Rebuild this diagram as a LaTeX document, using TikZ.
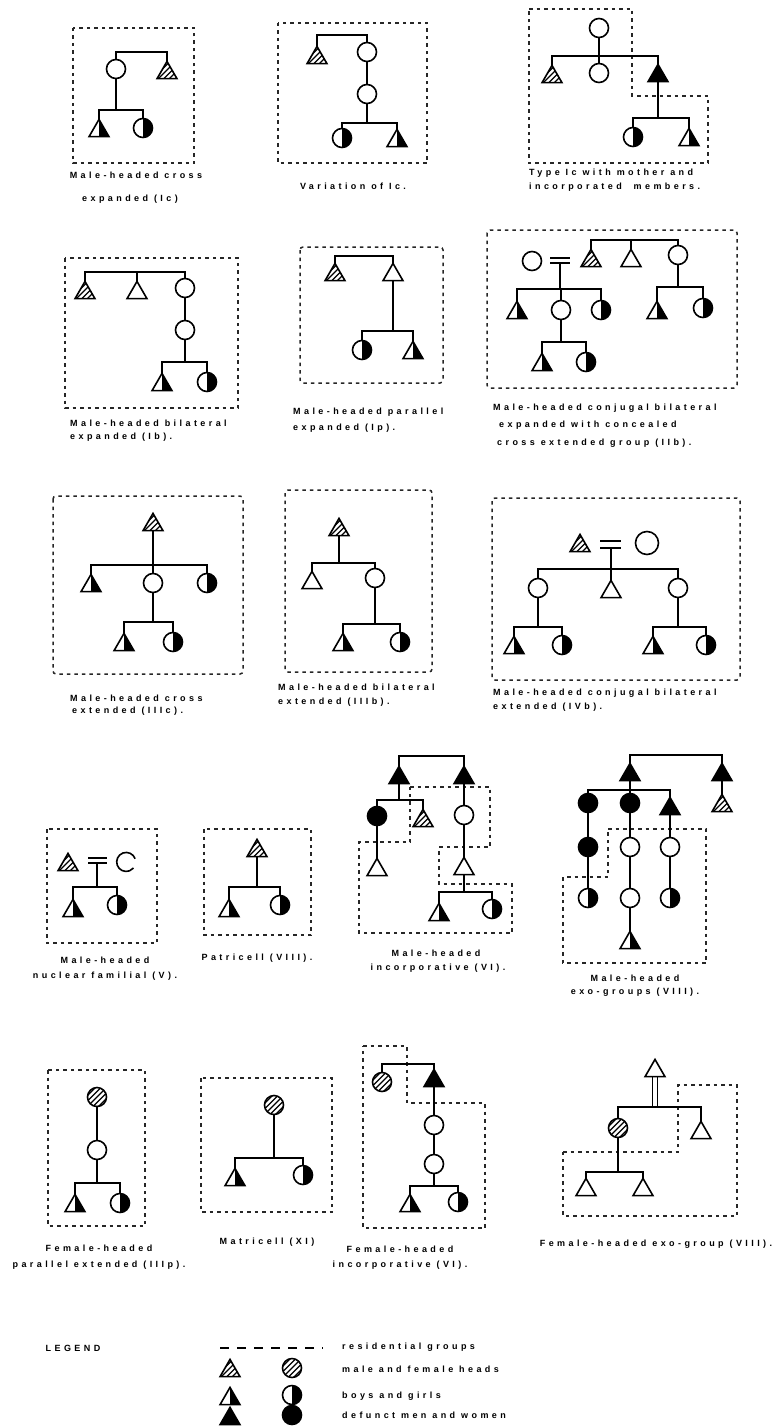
\documentclass[tikz,border=0pt]{standalone}
\usepackage{fontspec}
\setmainfont{Liberation Sans}
\newfontfamily\capfont[LetterSpace=38]{Liberation Sans}
\usetikzlibrary{shapes.geometric}
\tikzset{
  sym/.style={draw=black, line width=1.6pt, inner sep=0pt, outer sep=0pt, fill=white},
  tri/.style={sym, regular polygon, regular polygon sides=3, minimum size=23pt, yshift=-2.9pt},
  cir/.style={sym, circle, minimum size=19pt},
  dead/.style={fill=black},
  half/.style={path picture={\fill[black] (path picture bounding box.north) rectangle (path picture bounding box.south east);}},
  hatch/.style={path picture={\foreach \o in {-11,-5.5,0,5.5,11}{\draw[black,line width=1.3pt] ([xshift=\o pt]path picture bounding box.center) ++(-12,12) -- ++(24,-24);}}},
  link/.style={line width=1.8pt, black},
  res/.style={draw=black!85, line width=1.5pt, dash pattern=on 3.5pt off 4pt},
  captxt/.style={font=\capfont\bfseries\fontsize{9}{11}\selectfont, inner sep=0pt, text=black},
}
\newcommand\sibbar[3]{\draw[link] (#1.north) |- (#2.north |- #3) -- (#2.north);}
\newcommand\dropto[2]{\draw[link] (#1.south) -- (#1.south |- #2);}
\begin{document}
\begin{tikzpicture}[x=1pt,y=-1pt]
\fill[white] (0,0) rectangle (782,1426);
\useasboundingbox (0,0) rectangle (782,1426);

% ---------- D1 ----------
\draw[res] (73,28) rectangle (194,163);
\node[cir] (a1) at (116,69) {};
\node[tri,hatch] (a2) at (167,70) {};
\node[tri,half] (a3) at (99,128) {};
\node[cir,half] (a4) at (143,128) {};
\coordinate (a12) at (0,52);
\coordinate (a34) at (0,110);
\sibbar{a1}{a2}{a12}
\dropto{a1}{a34}
\sibbar{a3}{a4}{a34}
\node[captxt] (ta1) at (136,175) {Male-headed cross};
\node[captxt] (ta2) at (130,199) {expanded (Ic)};

% ---------- D2 ----------
\draw[res] (278,23) rectangle (427,163);
\node[tri,hatch] (b1) at (317,55) {};
\node[cir] (b2) at (367,52) {};
\node[cir] (b3) at (367,94) {};
\node[cir,half] (b4) at (342,138) {};
\node[tri,half] (b5) at (397,138) {};
\coordinate (b12) at (0,35);
\coordinate (b45) at (0,123);
\sibbar{b1}{b2}{b12}
\draw[link] (b2.south) -- (b3.north);
\dropto{b3}{b45}
\sibbar{b4}{b5}{b45}
\node[captxt] (tb1) at (353,186) {Variation of Ic.};

% ---------- D3 ----------
\draw[res] (529,9) -- (632,9) -- (632,96) -- (708,96) -- (708,163) -- (529,163) -- cycle;
\node[cir] (c1) at (599,28) {};
\node[tri,hatch] (c2) at (552,74) {};
\node[cir] (c3) at (599,73) {};
\node[tri,dead] (c4) at (658,73) {};
\node[cir,half] (c5) at (633,137) {};
\node[tri,half] (c6) at (689,137) {};
\coordinate (c24) at (0,56);
\coordinate (c56) at (0,118);
\draw[link] (c1.south) -- (c3.north);
\sibbar{c2}{c4}{c24}
\dropto{c4}{c56}
\sibbar{c5}{c6}{c56}
\node[captxt,anchor=west] (tc1) at (529,173) {Type Ic with mother and};
\node[captxt,anchor=west] (tc2) at (529,187) {incorporated\ \ members.};

% ---------- D4 ----------
\draw[res] (65,258) rectangle (238,408);
\node[tri,hatch] (d1) at (85,290) {};
\node[tri] (d2) at (137,290) {};
\node[cir] (d3) at (185,288) {};
\node[cir] (d4) at (185,330) {};
\node[tri,half] (d5) at (162,382) {};
\node[cir,half] (d6) at (207,382) {};
\coordinate (d13) at (0,272);
\coordinate (d56) at (0,362);
\sibbar{d1}{d3}{d13}
\draw[link] (d2.north) -- (d2.north |- d13);
\draw[link] (d3.south) -- (d4.north);
\dropto{d4}{d56}
\sibbar{d5}{d6}{d56}
\node[captxt,anchor=west] (td1) at (70,423) {Male-headed bilateral};
\node[captxt,anchor=west] (td2) at (70,437) {expanded (Ib).};

% ---------- D5 ----------
\draw[res,rounded corners=3pt] (300,247) rectangle (443,383);
\node[tri,hatch] (e1) at (335,272) {};
\node[tri] (e2) at (393,272) {};
\node[cir,half] (e3) at (362,350) {};
\node[tri,half] (e4) at (413,350) {};
\coordinate (e12) at (0,256);
\coordinate (e34) at (0,331);
\sibbar{e1}{e2}{e12}
\dropto{e2}{e34}
\sibbar{e3}{e4}{e34}
\node[captxt,anchor=west] (te1) at (293,412) {Male-headed parallel};
\node[captxt,anchor=west] (te2) at (293,428) {expanded (Ip).};

% ---------- D6 ----------
\draw[res,rounded corners=3pt] (487,230) rectangle (737,388);
\node[cir] (f1) at (532,261) {};
\draw[link] (550,258) -- (570,258) (550,263) -- (570,263);
\coordinate (feq) at (560,263);
\node[tri,half] (f2) at (517,310) {};
\node[cir] (f3) at (561,310) {};
\node[cir,half] (f4) at (601,310) {};
\node[tri,half] (f5) at (542,362) {};
\node[cir,half] (f6) at (586,362) {};
\node[tri,hatch] (f7) at (591,258) {};
\node[tri] (f8) at (631,258) {};
\node[cir] (f9) at (678,255) {};
\node[tri,half] (f10) at (657,310) {};
\node[cir,half] (f11) at (703,308) {};
\coordinate (f24) at (0,289);
\coordinate (f56) at (0,342);
\coordinate (f79) at (0,240);
\coordinate (f1011) at (0,287);
\draw[link] (feq) -- (feq |- f24);
\sibbar{f2}{f4}{f24}
\draw[link] (f3.north) -- (f3.north |- f24);
\dropto{f3}{f56}
\sibbar{f5}{f6}{f56}
\sibbar{f7}{f9}{f79}
\draw[link] (f8.north) -- (f8.north |- f79);
\dropto{f9}{f1011}
\sibbar{f10}{f11}{f1011}
\node[captxt,anchor=west] (tf1) at (493,408) {Male-headed conjugal bilateral};
\node[captxt,anchor=west] (tf2) at (499,425) {expanded with concealed};
\node[captxt,anchor=west] (tf3) at (497,443) {cross extended group (IIb).};

% ---------- D7 ----------
\draw[res,rounded corners=3pt] (53,496) rectangle (243,674);
\node[tri,hatch] (g1) at (153,522) {};
\node[tri,half] (g2) at (91,583) {};
\node[cir] (g3) at (153,583) {};
\node[cir,half] (g4) at (207,583) {};
\node[tri,half] (g5) at (124,642) {};
\node[cir,half] (g6) at (173,642) {};
\coordinate (g24) at (0,565);
\coordinate (g56) at (0,622);
\draw[link] (g1.south) -- (g3.north);
\sibbar{g2}{g4}{g24}
\dropto{g3}{g56}
\sibbar{g5}{g6}{g56}
\node[captxt,anchor=west] (tg1) at (70,698) {Male-headed cross};
\node[captxt,anchor=west] (tg2) at (72,711) {extended (IIIc).};

% ---------- D8 ----------
\draw[res,rounded corners=3pt] (285,490) rectangle (432,672);
\node[tri,hatch] (h1) at (339,527) {};
\node[tri] (h2) at (312,580) {};
\node[cir] (h3) at (375,578) {};
\node[tri,half] (h4) at (343,642) {};
\node[cir,half] (h5) at (400,642) {};
\coordinate (h23) at (0,563);
\coordinate (h45) at (0,624);
\dropto{h1}{h23}
\sibbar{h2}{h3}{h23}
\dropto{h3}{h45}
\sibbar{h4}{h5}{h45}
\node[captxt,anchor=west] (th1) at (278,687) {Male-headed bilateral};
\node[captxt,anchor=west] (th2) at (278,702) {extended (IIIb).};

% ---------- D9 ----------
\draw[res,rounded corners=3pt] (492,498) rectangle (740,680);
\node[tri,hatch] (i1) at (580,543) {};
\draw[link] (600,541) -- (621,541) (600,548) -- (621,548);
\coordinate (ieq) at (611,548);
\node[cir,minimum size=23pt] (i2) at (647,543) {};
\node[tri] (i3) at (611,589) {};
\node[cir] (i4) at (538,588) {};
\node[cir] (i5) at (678,588) {};
\node[tri,half] (i6) at (514,645) {};
\node[cir,half] (i7) at (562,645) {};
\node[tri,half] (i8) at (653,645) {};
\node[cir,half] (i9) at (706,645) {};
\coordinate (i45) at (0,569);
\coordinate (ikid) at (0,627);
\draw[link] (ieq) -- (i3.north);
\sibbar{i4}{i5}{i45}
\dropto{i4}{ikid}
\sibbar{i6}{i7}{ikid}
\dropto{i5}{ikid}
\sibbar{i8}{i9}{ikid}
\node[captxt,anchor=west] (ti1) at (493,693) {Male-headed conjugal bilateral};
\node[captxt,anchor=west] (ti2) at (493,707) {extended (IVb).};

% ---------- D10 ----------
\draw[res] (47,829) rectangle (157,943);
\node[tri,hatch] (j1) at (68,862) {};
\draw[link] (88,858) -- (107,858) (88,863) -- (107,863);
\coordinate (jeq) at (97,863);
\node[circle,minimum size=19pt,inner sep=0pt] (j2) at (126,862) {};
\draw[line width=1.6pt] (j2.20) arc[start angle=20, end angle=320, radius=9.5pt];
\node[tri,half] (j3) at (73,908) {};
\node[cir,half] (j4) at (117,905) {};
\coordinate (j34) at (0,887);
\draw[link] (jeq) -- (jeq |- j34);
\sibbar{j3}{j4}{j34}
\node[captxt] (tj1) at (105,960) {Male-headed};
\node[captxt] (tj2) at (105,976) {nuclear familial (V).};

% ---------- D11 ----------
\draw[res] (204,829) rectangle (311,935);
\node[tri,hatch] (k1) at (257,848) {};
\node[tri,half] (k2) at (229,908) {};
\node[cir,half] (k3) at (280,905) {};
\coordinate (k23) at (0,887);
\dropto{k1}{k23}
\sibbar{k2}{k3}{k23}
\node[captxt] (tk1) at (257,958) {Patricell (VIII).};

% ---------- D12 ----------
\draw[res] (410,787) -- (490,787) -- (490,847) -- (439,847) -- (439,884) -- (512,884) -- (512,933) -- (359,933) -- (359,842) -- (410,842) -- cycle;
\node[tri,dead] (l1) at (399,775) {};
\node[tri,dead] (l2) at (464,775) {};
\node[cir,dead] (l3) at (377,816) {};
\node[tri,hatch] (l4) at (423,818) {};
\node[tri] (l5) at (377,867) {};
\node[cir] (l6) at (464,815) {};
\node[tri] (l7) at (464,866) {};
\node[tri,half] (l8) at (439,912) {};
\node[cir,half] (l9) at (492,909) {};
\coordinate (l12) at (0,756);
\coordinate (l34) at (0,800);
\coordinate (l89) at (0,892);
\sibbar{l1}{l2}{l12}
\dropto{l1}{l34}
\sibbar{l3}{l4}{l34}
\draw[link] (l3.south) -- (l5.north);
\draw[link] (l2.south) -- (l6.north);
\draw[link] (l6.south) -- (l7.north);
\dropto{l7}{l89}
\sibbar{l8}{l9}{l89}
\node[captxt] (tl1) at (436,953) {Male-headed};
\node[captxt] (tl2) at (438,968) {incorporative (VI).};

% ---------- D13 ----------
\draw[res] (608,829) -- (706,829) -- (706,963) -- (563,963) -- (563,877) -- (608,877) -- cycle;
\node[tri,dead] (m1) at (630,772) {};
\node[tri,dead] (m2) at (722,772) {};
\node[tri,hatch] (m3) at (722,803) {};
\node[cir,dead] (m4) at (588,803) {};
\node[cir,dead] (m5) at (630,803) {};
\node[tri,dead] (m6) at (670,806) {};
\node[cir,dead] (m7) at (588,847) {};
\node[cir,half] (m8) at (588,898) {};
\node[cir] (m9) at (630,847) {};
\node[cir] (m10) at (630,898) {};
\node[tri,half] (m11) at (630,940) {};
\node[cir] (m12) at (670,847) {};
\node[cir,half] (m13) at (670,898) {};
\coordinate (m12b) at (0,755);
\coordinate (m46) at (0,790);
\sibbar{m1}{m2}{m12b}
\draw[link] (m2.south) -- (m3.north);
\draw[link] (m1.south) -- (m5.north);
\sibbar{m4}{m6}{m46}
\draw[link] (m4.south) -- (m7.north);
\draw[link] (m7.south) -- (m8.north);
\draw[link] (m5.south) -- (m9.north);
\draw[link] (m9.south) -- (m10.north);
\draw[link] (m10.south) -- (m11.north);
\draw[link] (m6.south) -- (m12.north);
\draw[link] (m12.south) -- (m13.north);
\node[captxt] (tm1) at (635,978) {Male-headed};
\node[captxt] (tm2) at (635,992) {exo-groups (VIII).};

% ---------- D14 ----------
\draw[res] (48,1070) rectangle (145,1226);
\node[cir,hatch] (n1) at (97,1097) {};
\node[cir] (n2) at (97,1150) {};
\node[tri,half] (n3) at (75,1203) {};
\node[cir,half] (n4) at (120,1203) {};
\coordinate (n34) at (0,1183);
\draw[link] (n1.south) -- (n2.north);
\dropto{n2}{n34}
\sibbar{n3}{n4}{n34}
\node[captxt] (tn1) at (99,1248) {Female-headed};
\node[captxt] (tn2) at (99,1265) {parallel extended (IIIp).};

% ---------- D15 ----------
\draw[res] (201,1078) rectangle (332,1212);
\node[cir,hatch] (o1) at (274,1105) {};
\node[tri,half] (o2) at (235,1177) {};
\node[cir,half] (o3) at (303,1175) {};
\coordinate (o23) at (0,1158);
\dropto{o1}{o23}
\sibbar{o2}{o3}{o23}
\node[captxt] (to1) at (267,1242) {Matricell (XI)};

% ---------- D16 ----------
\draw[res] (363,1046) -- (407,1046) -- (407,1103) -- (485,1103) -- (485,1228) -- (363,1228) -- cycle;
\node[cir,hatch] (p1) at (382,1082) {};
\node[tri,dead] (p2) at (434,1078) {};
\node[cir] (p3) at (434,1125) {};
\node[cir] (p4) at (434,1164) {};
\node[tri,half] (p5) at (410,1203) {};
\node[cir,half] (p6) at (458,1202) {};
\coordinate (p12) at (0,1064);
\coordinate (p56) at (0,1186);
\sibbar{p1}{p2}{p12}
\draw[link] (p2.south) -- (p3.north);
\draw[link] (p3.south) -- (p4.north);
\dropto{p4}{p56}
\sibbar{p5}{p6}{p56}
\node[captxt] (tp1) at (400,1249) {Female-headed};
\node[captxt] (tp2) at (400,1265) {incorporative (VI).};

% ---------- D17 ----------
\draw[res] (563,1152) -- (678,1152) -- (678,1085) -- (737,1085) -- (737,1216) -- (563,1216) -- cycle;
\node[tri] (q1) at (655,1068) {};
\node[cir,hatch] (q2) at (618,1128) {};
\node[tri] (q3) at (701,1130) {};
\node[tri] (q4) at (586,1187) {};
\node[tri] (q5) at (643,1187) {};
\coordinate (q23) at (0,1107);
\coordinate (q45) at (0,1172);
\draw[link] ([xshift=-2.5pt]q1.south) -- ([xshift=-2.5pt]q1.south |- q23);
\draw[link] ([xshift=2.5pt]q1.south) -- ([xshift=2.5pt]q1.south |- q23);
\sibbar{q2}{q3}{q23}
\dropto{q2}{q45}
\sibbar{q4}{q5}{q45}
\node[captxt] (tq1) at (656,1244) {Female-headed exo-group (VIII).};

% ---------- Legend ----------
\node[captxt] (lg) at (73,1348) {LEGEND};
\coordinate (ld1) at (220,1348);
\coordinate (ld2) at (323,1348);
\draw[line width=1.5pt, dash pattern=on 9pt off 8pt] (ld1) -- (ld2);
\node[captxt,anchor=west] (lt1) at (342,1347) {residential groups};
\node[tri,hatch] (r1) at (230,1368) {};
\node[cir,hatch] (r2) at (292,1368) {};
\node[captxt,anchor=west] (lt2) at (342,1369) {male and female heads};
\node[tri,half] (r3) at (230,1396) {};
\node[cir,half] (r4) at (292,1395) {};
\node[captxt,anchor=west] (lt3) at (342,1396) {boys and girls};
\node[tri,dead] (r5) at (230,1416) {};
\node[cir,dead] (r6) at (292,1415) {};
\node[captxt,anchor=west] (lt4) at (342,1415) {defunct men and women};
\end{tikzpicture}
\end{document}
